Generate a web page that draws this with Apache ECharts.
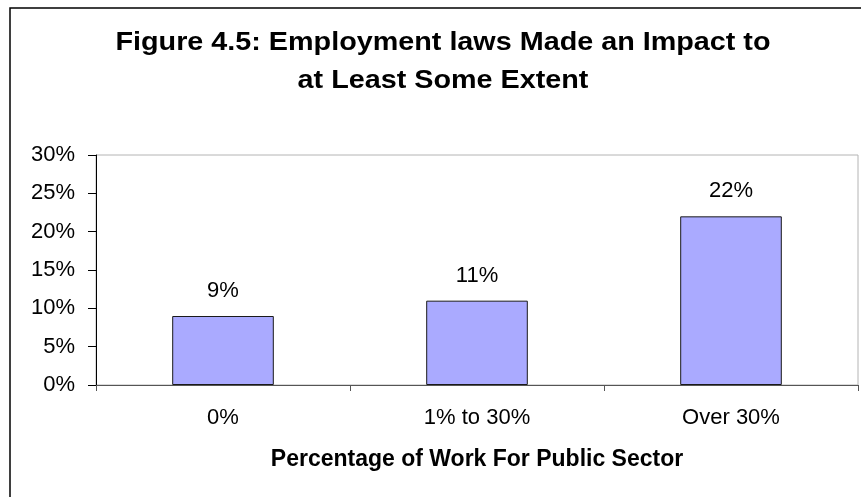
<!DOCTYPE html>
<html>
<head>
<meta charset="utf-8">
<script src="https://cdn.jsdelivr.net/npm/echarts@6/dist/echarts.min.js"></script>
<style>
  html, body { margin: 0; padding: 0; background: #fff; }
  #chart { width: 861px; height: 497px; }
</style>
</head>
<body>
<div id="chart"></div>
<script>
// Share of respondents, by how much of their work is for the public sector
const categories = ['0%', '1% to 30%', 'Over 30%'];
const impactShare = [9, 11, 22];
const yMin = 0;
const yMax = 30;
const yStep = 5;

const titleLines = ['Figure 4.5: Employment laws Made an Impact to', 'at Least Some Extent'];
const xAxisTitle = 'Percentage of Work For Public Sector';

const FONT = '"Liberation Sans", Arial, sans-serif';

const chart = echarts.init(document.getElementById('chart'), null, { renderer: 'canvas' });

chart.setOption({
  backgroundColor: '#ffffff',
  animation: false,
  textStyle: { fontFamily: FONT },
  grid: {
    left: 96, right: 3, top: 155, bottom: 112,
    show: true,
    borderColor: '#b4b4b4',
    borderWidth: 1
  },
  graphic: [
    {
      // outer chart frame
      type: 'rect',
      shape: { x: 10, y: 8, width: 900, height: 600 },
      style: { fill: 'none', stroke: '#000', lineWidth: 1.5 },
      silent: true,
      z: 100
    },
    {
      // two-line title, slightly widened
      type: 'text',
      x: 443,
      y: 24,
      originX: 0,
      originY: 0,
      scaleX: 1.15,
      style: {
        text: titleLines.join('\n'),
        font: 'bold 25px ' + FONT,
        fill: '#000',
        align: 'center',
        verticalAlign: 'top',
        lineHeight: 38
      },
      silent: true
    }
  ],
  xAxis: {
    type: 'category',
    data: categories,
    boundaryGap: true,
    name: xAxisTitle,
    nameLocation: 'middle',
    nameGap: 63,
    nameTextStyle: { fontSize: 23, fontWeight: 'bold', color: '#000', fontFamily: FONT },
    axisLine: { lineStyle: { color: '#555', width: 1 } },
    axisTick: { show: true, alignWithLabel: false, length: 6, lineStyle: { color: '#555' } },
    axisLabel: { fontSize: 22, color: '#000', margin: 22, fontFamily: FONT },
    splitLine: { show: false }
  },
  yAxis: {
    type: 'value',
    min: yMin,
    max: yMax,
    interval: yStep,
    axisLine: { show: true, lineStyle: { color: '#000', width: 1 } },
    axisTick: { show: true, length: 8, lineStyle: { color: '#000' } },
    axisLabel: { fontSize: 22, color: '#000', margin: 21, formatter: '{value}%', fontFamily: FONT },
    splitLine: { show: false }
  },
  series: [
    {
      type: 'bar',
      data: impactShare,
      barWidth: '40%',
      itemStyle: { color: '#aaaaff', borderColor: '#1a1a1a', borderWidth: 1 },
      label: {
        show: true,
        position: 'top',
        distance: 14,
        formatter: '{c}%',
        fontSize: 22,
        color: '#000',
        fontFamily: FONT
      }
    }
  ]
});
</script>
</body>
</html>
